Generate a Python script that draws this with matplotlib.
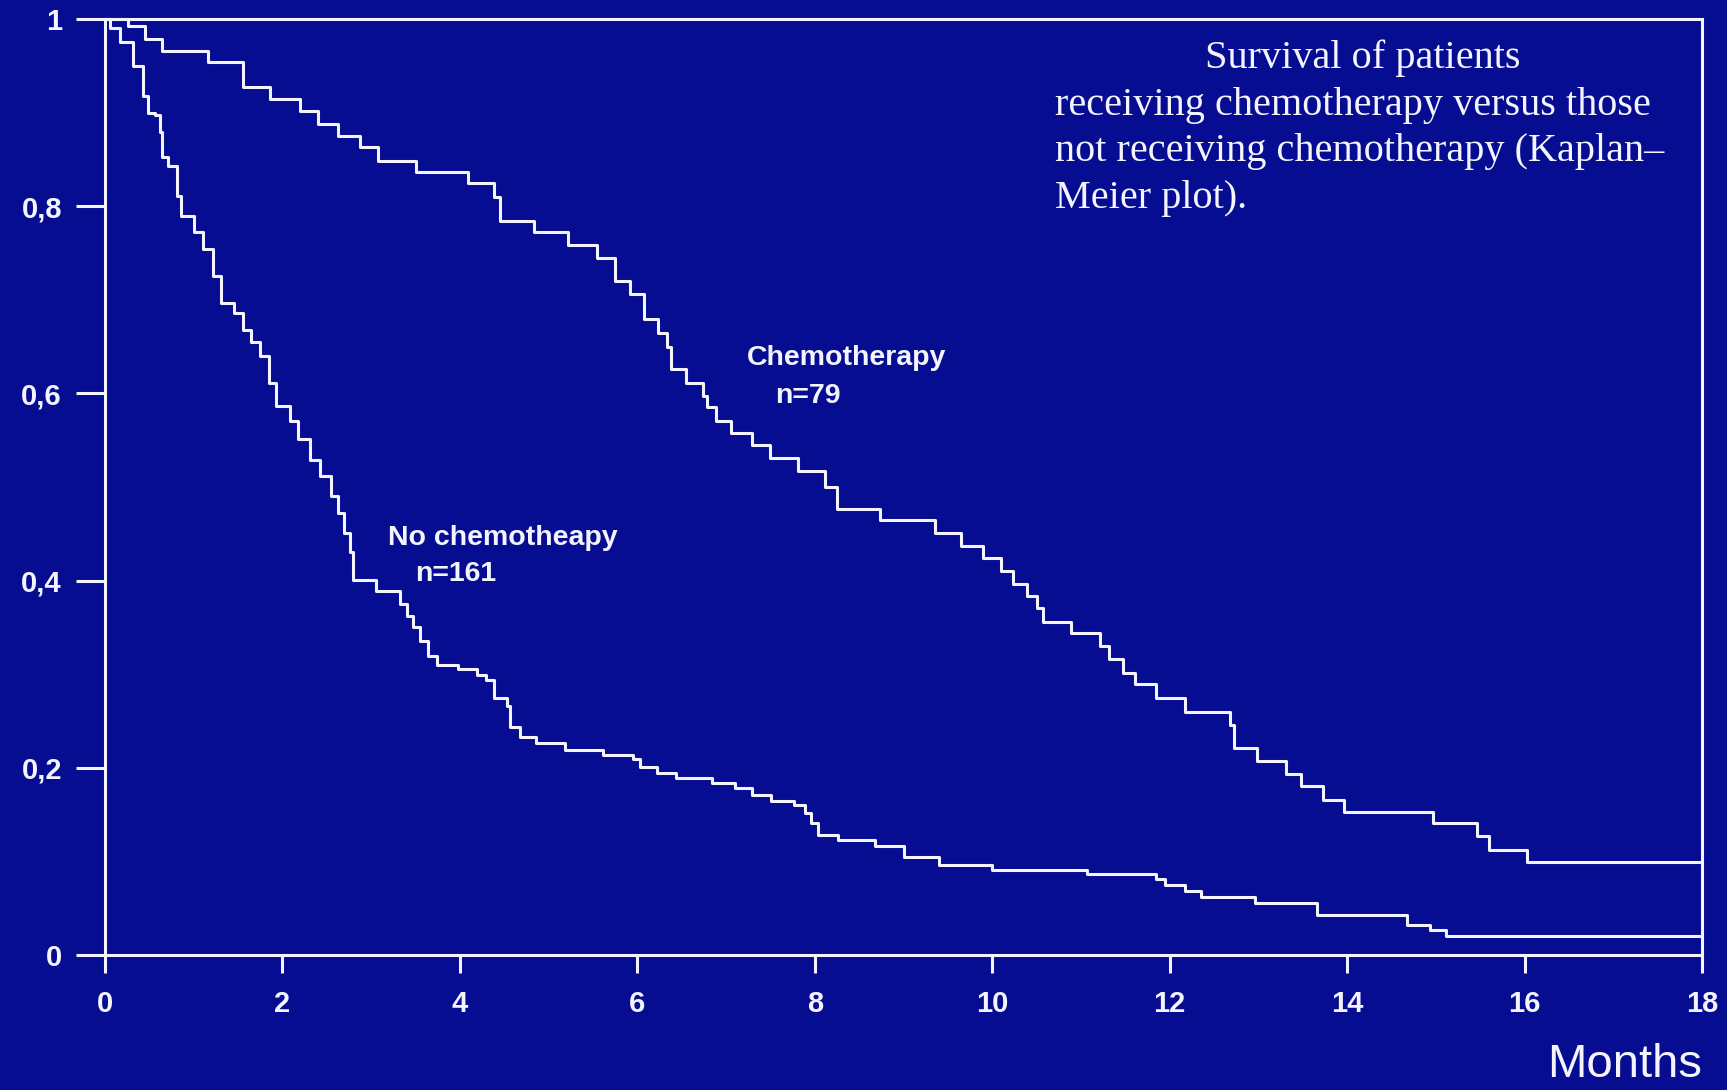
import matplotlib.pyplot as plt

# Kaplan-Meier estimates (months, survival fraction)
chemo_months = [0, 0.26, 0.45, 0.64, 1.16, 1.56, 1.86, 2.20, 2.40, 2.63, 2.87,
                3.08, 3.51, 4.09, 4.39, 4.45, 4.83, 5.22, 5.55, 5.75, 5.92,
                6.07, 6.23, 6.33, 6.38, 6.55, 6.74, 6.78, 6.89, 7.06, 7.29,
                7.49, 7.81, 8.11, 8.25, 8.73, 9.35, 9.65, 9.90, 10.10, 10.23,
                10.39, 10.50, 10.57, 10.89, 11.21, 11.32, 11.47, 11.61, 11.85,
                12.17, 12.68, 12.72, 12.98, 13.31, 13.48, 13.73, 13.97, 14.97,
                15.46, 15.60, 16.03, 18.0]
chemo_surv = [1.0, 0.993, 0.979, 0.966, 0.954, 0.927, 0.914, 0.902, 0.888,
              0.875, 0.863, 0.848, 0.836, 0.825, 0.81, 0.784, 0.772, 0.759,
              0.745, 0.720, 0.706, 0.679, 0.665, 0.650, 0.626, 0.611, 0.597,
              0.585, 0.570, 0.558, 0.545, 0.531, 0.517, 0.500, 0.476, 0.465,
              0.451, 0.437, 0.424, 0.410, 0.396, 0.383, 0.371, 0.356, 0.344,
              0.330, 0.316, 0.301, 0.289, 0.274, 0.260, 0.246, 0.221, 0.207,
              0.193, 0.180, 0.166, 0.153, 0.141, 0.127, 0.112, 0.099, 0.099]

nochemo_months = [0, 0.06, 0.17, 0.32, 0.43, 0.49, 0.56, 0.62, 0.64, 0.71,
                  0.81, 0.86, 1.0, 1.11, 1.22, 1.31, 1.45, 1.56, 1.65, 1.75,
                  1.85, 1.93, 2.08, 2.18, 2.31, 2.42, 2.55, 2.63, 2.69, 2.76,
                  2.80, 3.06, 3.32, 3.40, 3.47, 3.55, 3.64, 3.74, 3.98, 4.19,
                  4.30, 4.38, 4.53, 4.56, 4.68, 4.86, 5.18, 5.61, 5.95, 6.03,
                  6.22, 6.44, 6.84, 7.10, 7.29, 7.51, 7.77, 7.89, 7.96, 8.04,
                  8.26, 8.68, 9.01, 9.40, 10.0, 11.07, 11.85, 11.95, 12.17,
                  12.35, 12.96, 13.66, 14.68, 14.93, 15.11, 18.0]
nochemo_surv = [1.0, 0.99, 0.975, 0.95, 0.918, 0.90, 0.897, 0.879, 0.852,
                0.843, 0.811, 0.790, 0.772, 0.754, 0.725, 0.697, 0.686, 0.668,
                0.655, 0.640, 0.611, 0.586, 0.570, 0.551, 0.529, 0.512, 0.490,
                0.472, 0.451, 0.430, 0.401, 0.389, 0.375, 0.362, 0.350, 0.335,
                0.319, 0.310, 0.305, 0.299, 0.294, 0.275, 0.266, 0.244, 0.233,
                0.226, 0.219, 0.214, 0.209, 0.201, 0.194, 0.189, 0.184, 0.178,
                0.171, 0.164, 0.160, 0.152, 0.141, 0.128, 0.123, 0.116, 0.105,
                0.096, 0.091, 0.086, 0.081, 0.075, 0.068, 0.062, 0.055, 0.043,
                0.032, 0.027, 0.020, 0.020]

y_ticks = [0, 0.2, 0.4, 0.6, 0.8, 1]
y_tick_labels = ["0", "0,2", "0,4", "0,6", "0,8", "1"]
x_ticks = [0, 2, 4, 6, 8, 10, 12, 14, 16, 18]

BG = "#060d90"
FG = "#f4f4ff"

fig = plt.figure(figsize=(17.27, 10.90), dpi=100, facecolor=BG)
ax = fig.add_axes([0.0608, 0.1239, 0.9247, 0.8587], facecolor=BG)

ax.step(chemo_months, chemo_surv, where="post", color=FG, lw=2.2, clip_on=False)
ax.step(nochemo_months, nochemo_surv, where="post", color=FG, lw=2.2, clip_on=False)

ax.set_xlim(0, 18)
ax.set_ylim(0, 1)
for side in ["left", "right", "top", "bottom"]:
    ax.spines[side].set_color(FG)
    ax.spines[side].set_linewidth(2.2)

tick_font = dict(family="Liberation Sans", fontweight="bold", fontsize=21)
ax.set_xticks(x_ticks)
ax.set_xticklabels([str(v) for v in x_ticks], **tick_font)
ax.set_yticks(y_ticks)
ax.set_yticklabels(y_tick_labels, **tick_font)
ax.tick_params(axis="y", direction="out", length=21, width=2.2, color=FG,
               pad=10, labelcolor=FG)
ax.tick_params(axis="x", direction="out", length=13, width=2.2, color=FG,
               pad=12, labelcolor=FG)

# curve labels
lab_kw = dict(color=FG, family="Liberation Sans", fontweight="bold", fontsize=20.5)
ax.text(7.24, 0.630, "Chemotherapy", ha="left", va="baseline", **lab_kw)
ax.text(7.55, 0.590, "n=79", ha="left", va="baseline", **lab_kw)
ax.text(3.19, 0.438, "No chemotheapy", ha="left", va="baseline", **lab_kw)
ax.text(3.49, 0.400, "n=161", ha="left", va="baseline", **lab_kw)

# caption block at top right
cap_kw = dict(color=FG, family="Liberation Serif", fontsize=29, va="baseline")
fig.text(0.7892, 0.9376, "Survival of patients", ha="center", **cap_kw)
fig.text(0.6109, 0.8945, "receiving chemotherapy versus those", ha="left", **cap_kw)
fig.text(0.6109, 0.8523, "not receiving chemotherapy (Kaplan\u2013", ha="left", **cap_kw)
fig.text(0.6109, 0.8092, "Meier plot).", ha="left", **cap_kw)

fig.text(0.9855, 0.012, "Months", ha="right", va="baseline", color=FG,
         family="Liberation Sans", fontsize=34)

fig.savefig("out.png", dpi=100, facecolor=BG)
